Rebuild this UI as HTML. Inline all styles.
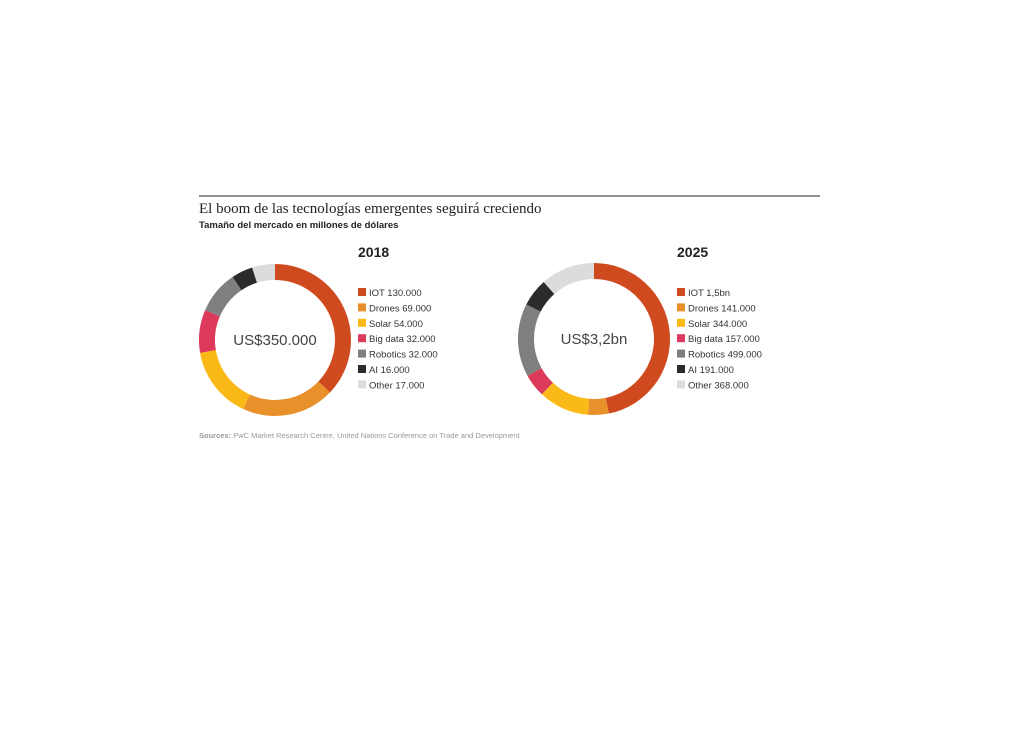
<!DOCTYPE html>
<html><head><meta charset="utf-8"><style>
body{margin:0;background:#fff;width:1024px;height:724px;overflow:hidden;font-family:"Liberation Sans",sans-serif}
</style></head><body>
<svg width="1024" height="724">
<line x1="199" y1="196" x2="820" y2="196" stroke="#222" stroke-width="1"/>
<text x="199" y="213" font-family="Liberation Serif,serif" font-size="15" fill="#222">El boom de las tecnologías emergentes seguirá creciendo</text>
<text x="199" y="228" font-size="9.5" font-weight="bold" fill="#222">Tamaño del mercado en millones de dólares</text>
<text x="199" y="438" font-size="7.5" fill="#999"><tspan font-weight="bold">Sources:</tspan> PwC Market Research Centre, United Nations Conference on Trade and Development</text>
<g id="g1"></g><g id="g2"></g>
</svg>
<script>
const categories=["IOT","Drones","Solar","Big data","Robotics","AI","Other"];
const colors=["#d04a1f","#e8902a","#fbb917","#dc3a5a","#7f7f7f","#2b2b2b","#dcdcdc"];
const values2018=[130,69,54,32,32,16,17];
const labels2018=["130.000","69.000","54.000","32.000","32.000","16.000","17.000"];
const values2025=[1500,141,344,157,499,191,368];
const labels2025=["1,5bn","141.000","344.000","157.000","499.000","191.000","368.000"];
const NS="http://www.w3.org/2000/svg";
function mk(t,a,p){const e=document.createElementNS(NS,t);for(const k in a)e.setAttribute(k,a[k]);p.appendChild(e);return e;}
function donut(g,cx,cy,vals,labs,year,center,lx){
 const R=76,r=60,tot=vals.reduce((a,b)=>a+b,0);let a0=0;
 vals.forEach((v,i)=>{const a1=a0+v/tot*2*Math.PI;
  const p=(a,rad)=>[cx+rad*Math.sin(a),cy-rad*Math.cos(a)];
  const [x0,y0]=p(a0,R),[x1,y1]=p(a1,R),[x2,y2]=p(a1,r),[x3,y3]=p(a0,r);const lg=a1-a0>Math.PI?1:0;
  const s=mk('path',{d:`M${x0},${y0}A${R},${R} 0 ${lg} 1 ${x1},${y1}L${x2},${y2}A${r},${r} 0 ${lg} 0 ${x3},${y3}Z`,fill:colors[i]},g);
  
  
  a0=a1;
  const sq=mk('rect',{x:lx,y:288+i*15.4,width:8,height:8,fill:colors[i]},g);
  
  
  const t=mk('text',{x:lx+11,y:296+i*15.4,'font-size':9.5,fill:'#333'},g);t.textContent=categories[i]+' '+labs[i];
  
  
 });
 const c=mk('text',{x:cx,y:cy+5,'text-anchor':'middle','font-size':15,fill:'#444'},g);c.textContent=center;
 
 
 const y=mk('text',{x:lx,y:257,'font-size':14,'font-weight':'bold',fill:'#222'},g);y.textContent=year;
 
 
}
donut(document.getElementById('g1'),275,340,values2018,labels2018,'2018','US$350.000',358);
donut(document.getElementById('g2'),594,339,values2025,labels2025,'2025','US$3,2bn',677);
</script>
</body></html>
